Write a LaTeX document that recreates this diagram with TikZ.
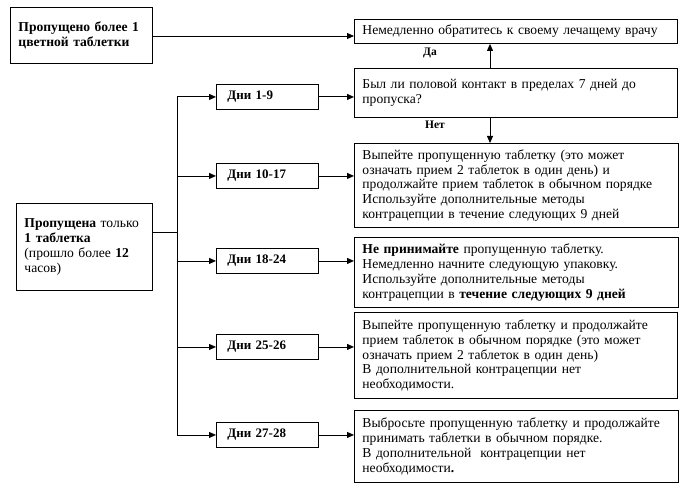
\documentclass[tikz,border=0pt]{standalone}
\usepackage{fontspec}
\setmainfont{Liberation Serif}
\usetikzlibrary{arrows.meta}
\newcommand{\bodyfs}{\fontsize{13.6}{14.8}\selectfont}
\tikzset{
  box/.style={draw, line width=0.9pt, inner xsep=8pt, inner ysep=2pt, align=left, anchor=north west, font=\bodyfs},
  daybox/.style={box, inner xsep=11pt, text width=80pt, minimum height=25pt, font=\fontsize{13}{14}\selectfont\bfseries},
  line/.style={line width=0.9pt},
  arr/.style={line width=0.9pt, -{Triangle[length=7pt,width=6pt]}},
  lbl/.style={font=\fontsize{11.5}{13}\selectfont\bfseries, inner sep=0pt}
}
\begin{document}
\begin{tikzpicture}[x=1pt,y=-1pt]
\useasboundingbox (0,0) rectangle (684,489);
% left boxes
\node[box, text width=126pt, minimum height=56pt] (A) at (10,7)
  {\textbf{Пропущено более 1}\\\textbf{цветной таблетки}};
\node[box, text width=120pt, minimum height=87pt] (H) at (16,203)
  {\textbf{Пропущена} только\\\textbf{1 таблетка}\\(прошло более \textbf{12}\\часов)};
% right boxes
\node[box, text width=307pt, minimum height=24pt] (B) at (354,19)
  {Немедленно обратитесь к своему лечащему врачу};
\node[box, text width=307pt, minimum height=49pt] (C) at (354,68)
  {Был ли половой контакт в пределах 7 дней до\\пропуска?};
\node[box, text width=308pt, minimum height=84pt] (D) at (354,143)
  {Выпейте пропущенную таблетку (это может\\означать прием 2 таблеток в один день) и\\продолжайте прием таблеток в обычном порядке\\Используйте дополнительные методы\\контрацепции в течение следующих 9 дней};
\node[box, text width=308pt, minimum height=70pt] (E) at (354,237)
  {\textbf{Не принимайте} пропущенную таблетку.\\Немедленно начните следующую упаковку.\\Используйте дополнительные методы\\контрацепции в \textbf{течение следующих 9 дней}};
\node[box, text width=307pt, minimum height=86pt] (F) at (354,312)
  {Выпейте пропущенную таблетку и продолжайте\\прием таблеток в обычном порядке (это может\\означать прием 2 таблеток в один день)\\В дополнительной контрацепции нет\\необходимости.};
\node[box, text width=308pt, minimum height=72pt] (G) at (354,410)
  {Выбросьте пропущенную таблетку и продолжайте\\принимать таблетки в обычном порядке.\\В дополнительной\ \ контрацепции нет\\необходимости\textbf{.}};
% day boxes
\node[daybox] (d1) at (216,84) {Дни 1-9};
\node[daybox] (d2) at (216,163) {Дни 10-17};
\node[daybox] (d3) at (216,248) {Дни 18-24};
\node[daybox] (d4) at (216,334) {Дни 25-26};
\node[daybox] (d5) at (216,422) {Дни 27-28};
% labels
\node[lbl] (da) at (430,53) {Да};
\node[lbl] (net) at (435,125) {Нет};
% coordinates
\coordinate (cx) at (490,0);
\coordinate (hj) at (177,232);
\coordinate (aj) at (0,36);
% connectors
\draw[arr] (aj -| A.east) -- (aj -| B.west);
\draw[arr] (cx |- C.north) -- (cx |- B.south);
\draw[arr] (cx |- C.south) -- (cx |- D.north);
\draw[line] (hj -| H.east) -- (hj);
\draw[line] (hj |- d1.west) -- (hj |- d5.west);
\foreach \d in {d1,d2,d3,d4,d5} {
  \draw[arr] (hj |- \d.west) -- (\d.west);
}
\draw[arr] (d1.east) -- (d1.east -| C.west);
\draw[arr] (d2.east) -- (d2.east -| D.west);
\draw[arr] (d3.east) -- (d3.east -| E.west);
\draw[arr] (d4.east) -- (d4.east -| F.west);
\draw[arr] (d5.east) -- (d5.east -| G.west);
\end{tikzpicture}
\end{document}
